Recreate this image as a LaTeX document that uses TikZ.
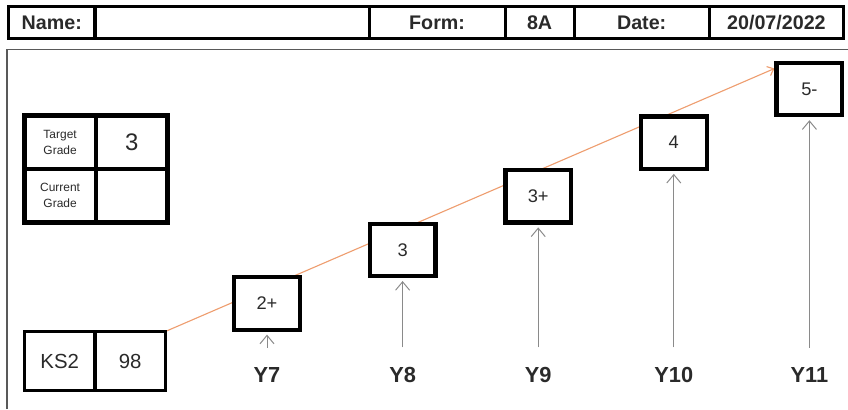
\documentclass[tikz,border=0pt]{standalone}
\usepackage{fontspec}
\setmainfont{Liberation Sans}
\usepackage{xcolor}
\usetikzlibrary{
    arrows.meta,
    positioning
}
\definecolor{inkgray}{HTML}{2A2A2A}
\definecolor{arrowgray}{HTML}{8A8A8A}
\definecolor{trendorange}{HTML}{EE9E70}
\pgfdeclarelayer{background}
\pgfsetlayers{background,main}
\tikzset{
    headcell/.style={draw, line width=2.2pt, outer sep=0pt, minimum height=0.8cm, inner sep=0pt,
        text=inkgray, font=\fontsize{14}{16}\selectfont\bfseries},
    tablecell/.style={draw, line width=3.4pt, outer sep=0pt, minimum width=1.79cm, minimum height=1.34cm,
        inner sep=0pt, align=center, text=inkgray},
    kscell/.style={draw, line width=2.4pt, outer sep=0pt, minimum width=1.76cm, minimum height=1.475cm,
        inner sep=0pt, text=inkgray, font=\fontsize{14.5}{16}\selectfont},
    gradebox/.style={draw, fill=white, line width=3pt, minimum width=1.64cm, minimum height=1.31cm,
        inner sep=0pt, text=inkgray, font=\fontsize{13}{15}\selectfont},
    yearlbl/.style={inner sep=0pt, text=inkgray, font=\fontsize{15.5}{17}\selectfont\bfseries},
    gradearrow/.style={draw=arrowgray, line width=0.7pt, -{Straight Barb[length=6pt,width=10pt]},
        shorten <=14pt, shorten >=2pt}
}

\begin{document}
\begin{tikzpicture}[x=0.025cm, y=-0.025cm]
    \useasboundingbox (0,0) rectangle (848,409);
    % header row
    \node[headcell, minimum width=2.1625cm] (namelbl) at (51.75,22.5) {Name:};
    \node[headcell, minimum width=6.85cm, right=0pt of namelbl] (namefld) {};
    \node[headcell, minimum width=3.4cm, right=0pt of namefld] (formlbl) {Form:};
    \node[headcell, minimum width=1.725cm, right=0pt of formlbl] (formval) {8A};
    \node[headcell, minimum width=3.375cm, right=0pt of formval] (datelbl) {Date:};
    \node[headcell, minimum width=3.3625cm, right=0pt of datelbl] (dateval) {20/07/2022};
    % frame
    \draw[draw=black!65, line width=1pt] (7,409) -- (7,49.5) -- (848,49.5);
    % target / current grade
    \node[tablecell, font=\fontsize{8.5}{11.5}\selectfont] (tglbl) at (60.1,142.1) {Target\\Grade};
    \node[tablecell, font=\fontsize{17}{19}\selectfont, right=0pt of tglbl] (tgval) {3};
    \node[tablecell, font=\fontsize{8.5}{11.5}\selectfont, below=0pt of tglbl] (cglbl) {Current\\Grade};
    \node[tablecell, right=0pt of cglbl] (cgval) {};
    % KS2
    \node[kscell] (kslbl) at (59.75,361) {KS2};
    \node[kscell, right=0pt of kslbl] (ksval) {98};
    % grades per year
    \foreach \g [count=\i from 7] in {2+,3,3+,4,5-} {
        \node[gradebox] (g\i) at ({267+135.6*(\i-7)},{303.5-53.6*(\i-7)}) {\g};
        \node[yearlbl] (y\i) at ({267+135.6*(\i-7)},375) {Y\i};
        \draw[gradearrow] (y\i) -- (g\i);
    }
    \begin{pgfonlayer}{background}
        \draw[trendorange, line width=0.8pt, -{Straight Barb[length=4pt,width=7pt]}]
        (ksval.north east) -- ([yshift=-5.5pt]g11.north west);
    \end{pgfonlayer}
\end{tikzpicture}
\end{document}
